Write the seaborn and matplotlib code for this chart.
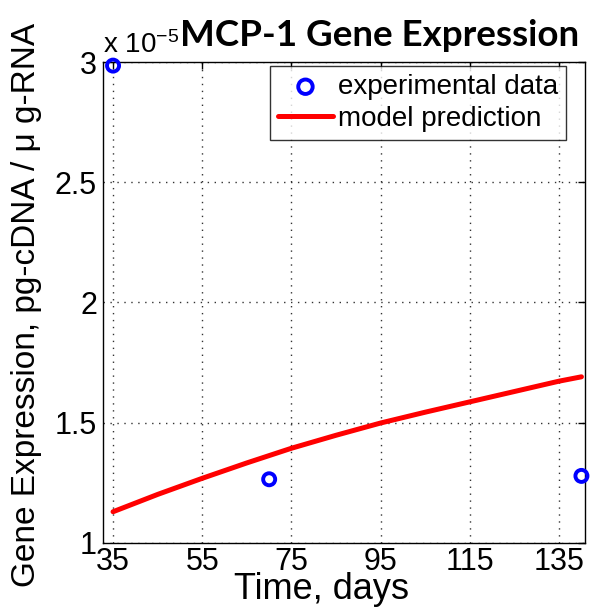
import matplotlib
matplotlib.use("Agg")
import matplotlib.pyplot as plt
import seaborn as sns
import pandas as pd
from matplotlib.ticker import ScalarFormatter, FixedLocator

# Measured MCP-1 expression (pg-cDNA / ug-RNA)
exp_days = [35, 70, 140]
exp_values = [2.985e-5, 1.265e-5, 1.279e-5]

# Model prediction curve
model_days = [35, 45, 55, 65, 75, 85, 95, 105, 115, 125, 135, 140]
model_values = [1.130e-5, 1.202e-5, 1.269e-5, 1.333e-5, 1.394e-5, 1.448e-5,
                1.499e-5, 1.544e-5, 1.587e-5, 1.630e-5, 1.673e-5, 1.691e-5]

x_ticks = [35, 55, 75, 95, 115, 135]
y_ticks = [1.0e-5, 1.5e-5, 2.0e-5, 2.5e-5, 3.0e-5]
y_tick_labels = ["1", "1.5", "2", "2.5", "3"]

sns.set_style("white")
plt.rcParams["font.family"] = ["Liberation Sans", "DejaVu Sans"]
plt.rcParams["text.color"] = "black"
plt.rcParams["mathtext.fontset"] = "custom"
plt.rcParams["mathtext.rm"] = "Liberation Sans"
plt.rcParams["mathtext.it"] = "Liberation Sans:italic"

exp_df = pd.DataFrame({"day": exp_days, "value": exp_values})
model_df = pd.DataFrame({"day": model_days, "value": model_values})

W, H = 597, 610
fig = plt.figure(figsize=(W / 100, H / 100), dpi=100)
ax = fig.add_axes([103 / W, 1 - 543 / H, 482 / W, 481 / H])

sns.scatterplot(data=exp_df, x="day", y="value", ax=ax, marker="o",
                s=75, facecolor="none", edgecolor="#0000ff", linewidth=2.8,
                label="experimental data", zorder=4, clip_on=False)
sns.lineplot(data=model_df, x="day", y="value", ax=ax, color="#ff0000",
             linewidth=3.6, label="model prediction", zorder=3)

ax.set_xlim(32.75, 140.8)
ax.set_ylim(1.0e-5, 3.0e-5)
ax.xaxis.set_major_locator(FixedLocator(x_ticks))
ax.yaxis.set_major_locator(FixedLocator(y_ticks))
fmt = ScalarFormatter()
fmt.set_powerlimits((0, 0))
ax.yaxis.set_major_formatter(fmt)
ax.yaxis.get_offset_text().set_visible(False)
ax.set_yticklabels(y_tick_labels)

ax.grid(True, linestyle=(0, (1, 4)), color="#333333", linewidth=1.0)
for sp in ax.spines.values():
    sp.set_visible(True)
    sp.set_color("black")
    sp.set_linewidth(1.0)
ax.tick_params(direction="in", length=5, width=1, top=True, right=True,
               labelsize=22, colors="black")
ax.tick_params(axis="x", pad=3)
ax.tick_params(axis="y", pad=4.3)

ax.set_xlabel("")
ax.set_ylabel("")
fig.text(322 / W, 1 - 599 / H, "Time, days", fontsize=26, ha="center",
         va="baseline")
fig.text(27 / W, 1 - 305 / H, "Gene Expression, pg-cDNA / \u03bc g-RNA",
         fontsize=24, rotation=90, ha="center", va="center")
fig.text(103 / W, 1 - 53 / H, "x 10$^{-5}$", fontsize=20, ha="left",
         va="baseline")
fig.text(380 / W, 1 - 46 / H, "MCP-1 Gene Expression", fontsize=26.5,
         fontweight="bold", family=["Lato", "DejaVu Sans"], ha="center",
         va="baseline")

leg = ax.legend(loc="upper right", bbox_to_anchor=(566 / W, 1 - 65.7 / H),
                bbox_transform=fig.transFigure, fontsize=20, frameon=True,
                fancybox=False, edgecolor="black", handlelength=1.95,
                handletextpad=0.18, borderpad=0.3, labelspacing=0.2,
                borderaxespad=0.0, markerscale=1.2)
leg.get_frame().set_linewidth(1.0)

fig.savefig("out.png", dpi=100, facecolor="white")
